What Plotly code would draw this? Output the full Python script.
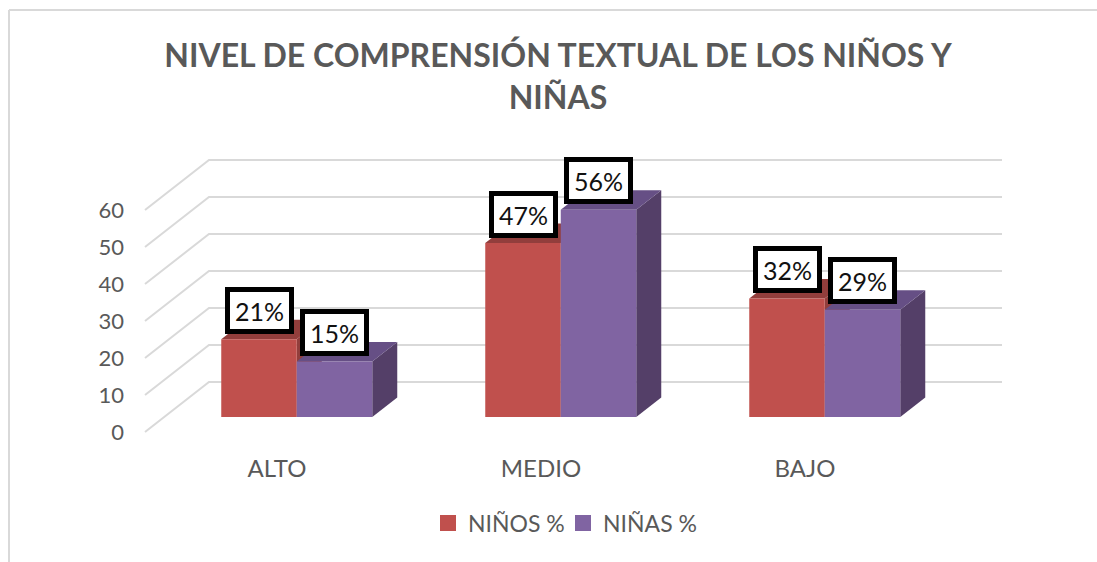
import plotly.graph_objects as go

# --- data ---
categories = ["ALTO", "MEDIO", "BAJO"]
ninos = [21, 47, 32]
ninas = [15, 56, 29]
labels_ninos = ["21%", "47%", "32%"]
labels_ninas = ["15%", "56%", "29%"]
y_ticks = [0, 10, 20, 30, 40, 50, 60]
title_text = "NIVEL DE COMPRENSIÓN TEXTUAL DE LOS NIÑOS Y<br>NIÑAS"

# --- layout geometry ---
W, H = 1097, 562
PX_X = 264.0          # px per category
PX_Y = 3.7            # px per value unit
X0_PX = 277.0         # pixel of category 0
WALL0_PX = 432.0      # pixel of value 0 at wall front
BAR0_PX = 417.0       # pixel of value 0 at bar front
FONT = "Lato"
GREY = "#595959"
GRID = "#D9D9D9"
RED, RED_D = "#C0504D", "#923E3C"
PUR, PUR_T, PUR_S = "#8064A2", "#664F85", "#543F68"

bar_w = 75.5 / PX_X
c_ninos = -18 / PX_X
c_ninas = 57.5 / PX_X
bar_dx, bar_dy = 25 / PX_X, 19.5 / PX_Y
wall_x0, wall_x1 = (145 - X0_PX) / PX_X, (209 - X0_PX) / PX_X
wall_x2 = (1002 - X0_PX) / PX_X
wall_dy = 50 / PX_Y

xr = [-X0_PX / PX_X, (W - X0_PX) / PX_X]
wall_r = [(WALL0_PX - H) / PX_Y, WALL0_PX / PX_Y]
bar_r = [(BAR0_PX - H) / PX_Y, BAR0_PX / PX_Y]

fig = go.Figure()

# walls and floor grid
for t in y_ticks:
    fig.add_trace(go.Scatter(
        x=[wall_x0, wall_x1, wall_x2], y=[t, t + wall_dy, t + wall_dy],
        mode="lines", line=dict(color=GRID, width=2), yaxis="y",
        showlegend=False, hoverinfo="skip"))

# depth faces
def depth(center, vals, top_col, side_col):
    for i, v in enumerate(vals):
        l = i + center - bar_w / 2
        r = i + center + bar_w / 2
        fig.add_trace(go.Scatter(
            x=[r, r + bar_dx, r + bar_dx, r, r], y=[0, bar_dy, v + bar_dy, v, 0],
            fill="toself", fillcolor=side_col, mode="none", yaxis="y2",
            showlegend=False, hoverinfo="skip"))
        fig.add_trace(go.Scatter(
            x=[l, l + bar_dx, r + bar_dx, r, l], y=[v, v + bar_dy, v + bar_dy, v, v],
            fill="toself", fillcolor=top_col, mode="none", yaxis="y2",
            showlegend=False, hoverinfo="skip"))

depth(c_ninos, ninos, RED_D, RED_D)
depth(c_ninas, ninas, PUR_T, PUR_S)

# front faces
idx = list(range(len(categories)))
fig.add_trace(go.Bar(x=[i + c_ninos for i in idx], y=ninos, width=bar_w, marker=dict(color=RED, line=dict(width=0)),
                     yaxis="y3", showlegend=False, hoverinfo="skip"))
fig.add_trace(go.Bar(x=[i + c_ninas for i in idx], y=ninas, width=bar_w, marker=dict(color=PUR, line=dict(width=0)),
                     yaxis="y3", showlegend=False, hoverinfo="skip"))

# legend entries
for name, col in [("NIÑOS %", RED), ("NIÑAS %", PUR)]:
    fig.add_trace(go.Scatter(x=[None], y=[None], mode="markers", name=name,
                             marker=dict(symbol="square", size=16, color=col)))

# data labels
anns = []
for center, vals, labs in [(c_ninos, ninos, labels_ninos), (c_ninas, ninas, labels_ninas)]:
    for i, (v, lab) in enumerate(zip(vals, labs)):
        anns.append(dict(x=i + center, y=v, xref="x", yref="y3", yshift=29, text=lab, showarrow=False,
                         font=dict(family=FONT, size=25, color="#111111"), bgcolor="white",
                         bordercolor="black", borderwidth=5, borderpad=0, width=59, height=37,
                         xanchor="center", yanchor="middle", align="center", valign="middle"))

fig.update_layout(
    width=W, height=H, margin=dict(l=0, r=0, t=0, b=0), autosize=False,
    paper_bgcolor="white", plot_bgcolor="white", barmode="overlay",
    title=dict(text=title_text, x=558 / W, xanchor="center", xref="paper",
               y=1 - 67 / H, yanchor="middle", yref="paper",
               font=dict(family=FONT, size=32, color=GREY, weight="bold")),
    xaxis=dict(range=xr, domain=[0, 1], anchor="free", position=1 - 452 / H, tickvals=idx, ticktext=categories,
               showgrid=False, zeroline=False, showline=False, ticks="",
               tickfont=dict(family=FONT, size=24, color=GREY)),
    yaxis=dict(range=wall_r, domain=[0, 1], anchor="free", position=145 / W, side="left", tickvals=y_ticks,
               showgrid=False, zeroline=False, showline=False, ticks="", ticklabelstandoff=21,
               tickfont=dict(family=FONT, size=22, color=GREY)),
    yaxis2=dict(range=bar_r, overlaying="y", visible=False, anchor="x"),
    yaxis3=dict(range=bar_r, overlaying="y", visible=False, anchor="x"),
    legend=dict(orientation="h", x=428 / W, xanchor="left", y=1 - 523 / H, yanchor="middle",
                entrywidth=90, entrywidthmode="pixels",
                font=dict(family=FONT, size=23, color=GREY), bgcolor="rgba(0,0,0,0)"),
    annotations=anns,
    shapes=[
        dict(type="line", xref="paper", yref="paper", x0=9 / W, x1=1, y0=1 - 10 / H, y1=1 - 10 / H,
             line=dict(color=GRID, width=2)),
        dict(type="line", xref="paper", yref="paper", x0=9 / W, x1=9 / W, y0=0, y1=1 - 10 / H,
             line=dict(color=GRID, width=2)),
    ],
)

fig.write_html("out.html", config=dict(displayModeBar=False), post_script="document.body.style.margin='0';")
